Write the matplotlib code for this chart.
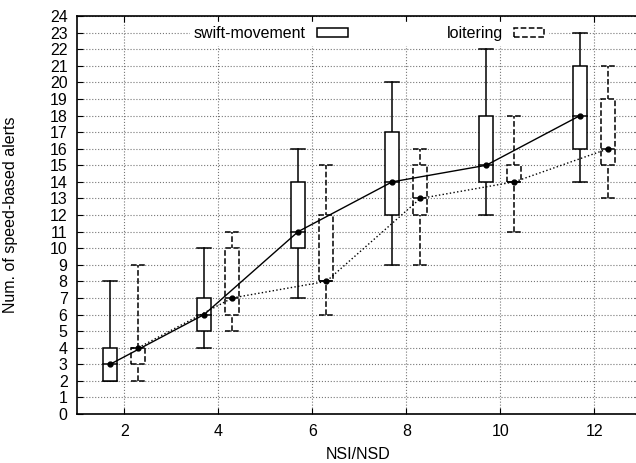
import numpy as np
import matplotlib
matplotlib.use('Agg')
import matplotlib.pyplot as plt
from matplotlib.patches import Patch

plt.rcParams['font.family'] = ['Liberation Sans', 'DejaVu Sans']

nsi = [2, 4, 6, 8, 10, 12]

# swift-movement: min, q1, median, q3, max
swift_min = [2, 4, 7, 9, 12, 14]
swift_q1 = [2, 5, 10, 12, 14, 16]
swift_med = [3, 6, 11, 14, 15, 18]
swift_q3 = [4, 7, 14, 17, 18, 21]
swift_max = [8, 10, 16, 20, 22, 23]

# loitering
loit_min = [2, 5, 6, 9, 11, 13]
loit_q1 = [3, 6, 8, 12, 14, 15]
loit_med = [4, 7, 8, 13, 14, 16]
loit_q3 = [4, 10, 12, 15, 15, 19]
loit_max = [9, 11, 15, 16, 18, 21]

fig = plt.figure(figsize=(6.36, 4.63), dpi=100)
ax = fig.add_axes([0.1215, 0.1058, 0.8868, 0.8596])

w = 0.3


def draw_series(xs, lo, q1, med, q3, hi, ls, connect_ls):
    xs = np.asarray(xs, dtype=float)
    for x, a, b, m, c, d in zip(xs, lo, q1, med, q3, hi):
        ax.plot([x, x], [a, d], color='black', lw=1.1, ls=ls, zorder=2)
        ax.plot([x - w / 2, x + w / 2], [a, a], color='black', lw=1.1, ls=ls, zorder=2)
        ax.plot([x - w / 2, x + w / 2], [d, d], color='black', lw=1.1, ls=ls, zorder=2)
        ax.bar(x, c - b, bottom=b, width=w, facecolor='white', edgecolor='black',
               lw=1.1, ls=ls, zorder=3)
        ax.plot([x - w / 2, x + w / 2], [m, m], color='black', lw=1.1, ls=ls, zorder=4)
    ax.plot(xs, med, color='black', lw=1.0, ls=connect_ls, marker='o', ms=3.5, zorder=5)


draw_series(np.array(nsi) - 0.3, swift_min, swift_q1, swift_med, swift_q3, swift_max, '-', '-')
draw_series(np.array(nsi) + 0.3, loit_min, loit_q1, loit_med, loit_q3, loit_max, '--', ':')

ax.set_xlim(1, 13)
ax.set_ylim(0, 24)
ax.set_xticks(nsi)
ax.set_yticks(range(0, 25))
ax.grid(True, color='#777777', ls=':', lw=0.8, zorder=0)
ax.set_axisbelow(True)
ax.tick_params(direction='in', length=4, width=0.8, top=True, right=True,
               labelsize=11.5, pad=7)
for s in ax.spines.values():
    s.set_linewidth(1.2)

ax.set_xlabel('NSI/NSD', fontsize=11.5)
ax.set_ylabel('Num. of speed-based alerts', fontsize=11.5)
ax.xaxis.set_label_coords(0.4986, -0.083)
ax.yaxis.set_label_coords(-0.105, 0.5)

handles = [Patch(facecolor='white', edgecolor='black', lw=1.1, ls='-'),
           Patch(facecolor='white', edgecolor='black', lw=1.1, ls='--')]
leg = ax.legend(handles, ['swift-movement', 'loitering'], loc='upper left',
                bbox_to_anchor=(0.2, 0.985), ncol=2, markerfirst=False,
                frameon=True, fancybox=False, framealpha=1, edgecolor='white',
                fontsize=11.5, handlelength=1.9, handleheight=0.5,
                handletextpad=0.7, columnspacing=6.2, borderpad=0.25,
                borderaxespad=0)
leg.set_zorder(6)

fig.savefig('out.png', dpi=100)
